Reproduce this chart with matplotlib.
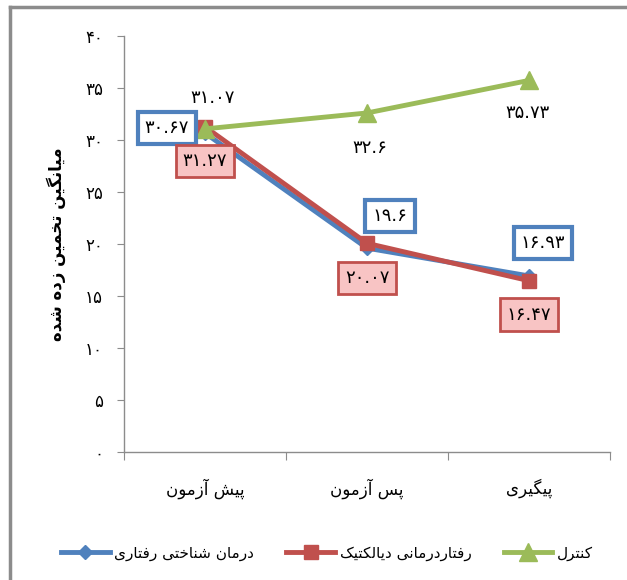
import matplotlib
matplotlib.use("Agg")
import matplotlib.pyplot as plt
from matplotlib.lines import Line2D

# chart values
groups = ["پیش آزمون", "پس آزمون", "پیگیری"]
series_names = ["درمان شناختی رفتاری", "رفتاردرمانی دیالکتیک", "کنترل"]
cbt = [30.67, 19.6, 16.93]
dbt = [31.27, 20.07, 16.47]
control = [31.07, 32.6, 35.73]
y_ticks = [0, 5, 10, 15, 20, 25, 30, 35, 40]
y_title = "میانگین تخمین زده شده"

# matplotlib does no arabic shaping, so pick the presentation forms by hand
# (isolated, final, initial, medial) or (isolated, final) for right-joining letters
FORMS = {
    "ا": ("\uFE8D", "\uFE8E"),
    "آ": ("\uFE81", "\uFE82"),
    "د": ("\uFEA9", "\uFEAA"),
    "ر": ("\uFEAD", "\uFEAE"),
    "ز": ("\uFEAF", "\uFEB0"),
    "و": ("\uFEED", "\uFEEE"),
    "پ": ("\uFB56", "\uFB57", "\uFB58", "\uFB59"),
    "ت": ("\uFE95", "\uFE96", "\uFE97", "\uFE98"),
    "خ": ("\uFEA5", "\uFEA6", "\uFEA7", "\uFEA8"),
    "س": ("\uFEB1", "\uFEB2", "\uFEB3", "\uFEB4"),
    "ش": ("\uFEB5", "\uFEB6", "\uFEB7", "\uFEB8"),
    "ف": ("\uFED1", "\uFED2", "\uFED3", "\uFED4"),
    "ک": ("\uFB8E", "\uFB8F", "\uFB90", "\uFB91"),
    "گ": ("\uFB92", "\uFB93", "\uFB94", "\uFB95"),
    "ل": ("\uFEDD", "\uFEDE", "\uFEDF", "\uFEE0"),
    "م": ("\uFEE1", "\uFEE2", "\uFEE3", "\uFEE4"),
    "ن": ("\uFEE5", "\uFEE6", "\uFEE7", "\uFEE8"),
    "ه": ("\uFEE9", "\uFEEA", "\uFEEB", "\uFEEC"),
    "ی": ("\uFBFC", "\uFBFD", "\uFBFE", "\uFBFF"),
}


def fa(text):
    out = []
    for i, ch in enumerate(text):
        if ch not in FORMS:
            out.append(ch)
            continue
        prev = text[i - 1] if i > 0 else ""
        nxt = text[i + 1] if i + 1 < len(text) else ""
        f = FORMS[ch]
        jp = prev in FORMS and len(FORMS[prev]) == 4
        jn = len(f) == 4 and nxt in FORMS
        if jp and jn:
            out.append(f[3])
        elif jp:
            out.append(f[1])
        elif jn:
            out.append(f[2])
        else:
            out.append(f[0])
    return "".join(reversed(out))


def fa_num(v):
    return str(v).translate(str.maketrans("0123456789", "۰۱۲۳۴۵۶۷۸۹"))


plt.rcParams["font.family"] = ["DejaVu Sans"]

BLUE = "#4F81BD"
RED = "#C0504D"
GREEN = "#9BBB59"
GREY = "#8C8C8C"

fig = plt.figure(figsize=(6.27, 5.8), dpi=100)
ax = fig.add_axes([124 / 627, 1 - 452 / 580, 486 / 627, 416 / 580])

xs = [0.5, 1.5, 2.5]
l1, = ax.plot(xs, cbt, color=BLUE, lw=3.5, marker="D", ms=7, zorder=3)
l2, = ax.plot(xs, dbt, color=RED, lw=3.5, marker="s", ms=10, zorder=4)
l3, = ax.plot(xs, control, color=GREEN, lw=3.5, marker="^", ms=13, zorder=5)

# data labels, offsets in pixels
blue_off = [(-38, 5), (23, 32), (14, 33)]
red_off = [(0, -34), (0, -35), (0, -34)]
green_off = [(8, 31), (3, -35), (-1, -33)]

for x, v, off in zip(xs, cbt, blue_off):
    ax.annotate(fa_num(v), (x, v), xytext=off, textcoords="offset pixels",
                ha="center", va="center", fontsize=13, zorder=6,
                bbox=dict(boxstyle="square,pad=0.4", fc="white", ec=BLUE, lw=3))
for x, v, off in zip(xs, dbt, red_off):
    ax.annotate(fa_num(v), (x, v), xytext=off, textcoords="offset pixels",
                ha="center", va="center", fontsize=13, zorder=6,
                bbox=dict(boxstyle="square,pad=0.4", fc="#F8C4C4", ec=RED, lw=2))
for x, v, off in zip(xs, control, green_off):
    ax.annotate(fa_num(v), (x, v), xytext=off, textcoords="offset pixels",
                ha="center", va="center", fontsize=13, zorder=6)

ax.set_xlim(0, 3)
ax.set_ylim(0, 40)
ax.set_yticks(y_ticks)
ax.set_yticklabels([fa_num(t) for t in y_ticks], fontsize=12)
ax.set_xticks([0, 1, 2, 3])
ax.set_xticklabels([])
ax.set_xticks(xs, minor=True)
ax.set_xticklabels([fa(g) for g in groups], minor=True, fontsize=12)
ax.tick_params(axis="x", which="minor", length=0, pad=19)
ax.tick_params(axis="x", which="major", length=6, direction="out", color=GREY)
ax.tick_params(axis="y", length=5, direction="out", color=GREY, pad=10)

for s in ["top", "right"]:
    ax.spines[s].set_visible(False)
for s in ["left", "bottom"]:
    ax.spines[s].set_color(GREY)
    ax.spines[s].set_linewidth(1)

ax.set_ylabel(fa(y_title), fontsize=12, fontweight="bold", labelpad=14)

fig.legend([l1, l2, l3], [fa(n) for n in series_names], loc="center",
           bbox_to_anchor=(327 / 627, 1 - 553 / 580), ncol=3, frameon=False,
           fontsize=11, handlelength=3.2, columnspacing=2.1, handletextpad=0.3)

# outer chart border (cut at the right and bottom)
fig.add_artist(Line2D([10 / 627, 10 / 627], [0, 1 - 7 / 580], color=GREY, lw=2.5,
                      transform=fig.transFigure))
fig.add_artist(Line2D([10 / 627, 1], [1 - 7 / 580, 1 - 7 / 580], color=GREY, lw=2.5,
                      transform=fig.transFigure))

fig.savefig("out.png", dpi=100)
